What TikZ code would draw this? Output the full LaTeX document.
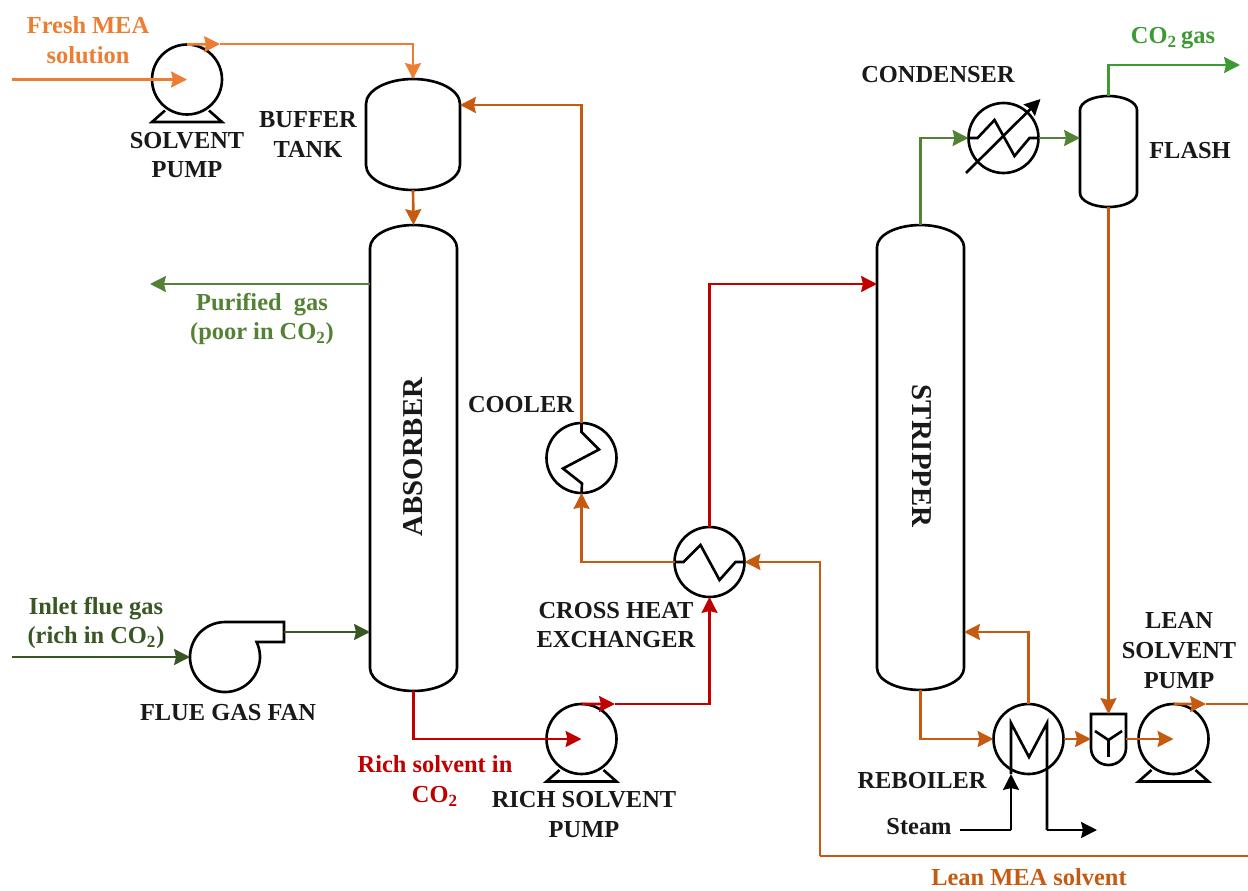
\documentclass[tikz,border=0pt]{standalone}
\usepackage{fontspec}
\setmainfont{Liberation Serif}
\definecolor{pforange}{RGB}{237,125,49}
\definecolor{pfrust}{RGB}{197,90,17}
\definecolor{pfred}{RGB}{192,0,0}
\definecolor{pfgreen}{RGB}{84,130,53}
\definecolor{pfdark}{RGB}{56,87,35}
\definecolor{pfco}{RGB}{60,155,50}
\usetikzlibrary{arrows.meta,positioning,calc}

\begin{document}
\begin{tikzpicture}[x=0.02cm,y=-0.02cm,
    lbl/.style={font=\fontsize{13.9}{17}\selectfont\bfseries, align=center, inner sep=0pt, text=black!90},
    tall/.style={font=\fontsize{16.4}{19}\selectfont\bfseries, inner sep=0pt, text=black!90},
    unit/.style={circle, draw=black, line width=1.5pt, minimum size=1.4cm, inner sep=0pt, outer sep=0pt},
    vessel/.style={rectangle, inner sep=0pt, outer sep=0pt},
    wire/.style={line width=1.5pt, black, line join=miter},
    flow/.style={line width=1.5pt, -{Stealth[length=9pt,width=9pt,inset=1pt]}},
    pipe/.style={line width=1.5pt}
  ]
    \useasboundingbox (0,0) rectangle (1248,890);

    % rotating units
    \node[unit] (solventpump) at (187,79.5) {};
    \node[unit] (richpump) at (581.5,739) {};
    \node[unit] (leanpump) at (1173.5,739) {};
    \node[unit] (cooler) at (581.5,458) {};
    \node[unit] (crosshx) at (709.5,562) {};
    \node[unit] (condenser) at (1003.5,138) {};
    \node[unit] (reboiler) at (1028.5,739) {};
    \node[circle, minimum size=1.4cm, inner sep=0pt, outer sep=0pt] (fan) at (225,657) {};

    % columns and drums
    \node[vessel, minimum width=1.88cm, minimum height=2.22cm] (tank) at (413,134.5) {};
    \node[vessel, minimum width=1.74cm, minimum height=9.32cm] (absorber) at (413.5,458) {};
    \node[vessel, minimum width=1.74cm, minimum height=9.3cm] (stripper) at (920.5,457.5) {};
    \node[vessel, minimum width=1.14cm, minimum height=2.22cm] (flash) at (1108.5,151.5) {};
    \node[vessel, minimum width=0.7cm, minimum height=1.02cm] (mixer) at (1108.5,739.5) {};

    \foreach \n/\r/\h in {tank/47/25, absorber/43.5/23, stripper/43.5/22, flash/28.5/14}
      \draw[wire] ($(\n.north west)+(0,\h)$) arc[start angle=180, end angle=360, x radius=\r, y radius=\h]
        -- ($(\n.south east)+(0,-\h)$) arc[start angle=0, end angle=180, x radius=\r, y radius=\h] -- cycle;

    % pump feet
    \foreach \n in {solventpump,richpump,leanpump}
      \draw[wire] ($(\n)+(-22,31)$) -- ++(-13,11.5) -- ++(70,0) -- ++(-13,-11.5);

    % fan casing
    \draw[wire] ($(fan)+(31.6,-15)$) arc[start angle=-25.4, end angle=270, radius=35]
      -- ++(59,0) -- ++(0,20) -- cycle;

    % mixer body
    \draw[wire] (mixer.north west) -- (mixer.north east) -- ++(0,34)
      arc[start angle=0, end angle=180, x radius=17.5, y radius=17] -- cycle;
    \draw[wire] ($(mixer)+(-13.5,-8.5)$) -- ($(mixer)+(0,0.5)$) -- ($(mixer)+(13.5,-8.5)$);
    \draw[wire] ($(mixer)+(0,0.5)$) -- ($(mixer)+(0,17.5)$);

    % coils
    \draw[wire] (cooler.north) -- ++(0,9) -- ++(17.5,17.5) -- ++(-36,19) -- ++(19,15) -- (cooler.south);
    \draw[wire] (crosshx.west) -- ++(9,0) -- ++(17,-17) -- ++(19,35) -- ++(16,-18) -- (crosshx.east);
    \draw[wire] (condenser.west) -- ++(9,0) -- ++(17,-18) -- ++(20,36) -- ++(15,-18) -- (condenser.east);
    \draw[wire, -{Stealth[length=9pt,width=9pt,inset=1pt]}] ($(condenser)+(-37.5,35)$) -- ($(condenser)+(37,-39)$);

    % solvent side
    \coordinate (freshin) at (12,79.5);
    \coordinate (freshtip) at (220,44);
    \draw[flow, pforange] (freshin) -- (solventpump.center);
    \draw[flow, pforange] (solventpump.north) -- (freshtip);
    \draw[flow, pforange] (freshtip) -| (tank.north);
    \draw[flow, pfrust] (tank.south) -- (absorber.north);
    \coordinate (tankin) at (tank.east |- 0,105);
    \draw[flow, pfrust] (cooler.north) |- (tankin);
    \draw[flow, pfrust] (crosshx.west) -| (cooler.south);

    % gas side
    \coordinate (purout) at (150,284);
    \draw[flow, pfgreen] (absorber.west |- purout) -- (purout);
    \coordinate (fluein) at (12,657);
    \coordinate (fanout) at (284,632);
    \draw[flow, pfdark] (fluein) -- (fan.west);
    \draw[flow, pfdark] (fanout) -- (absorber.west |- fanout);

    % rich solvent
    \coordinate (richtip) at (615,704);
    \coordinate (stripin) at (stripper.west |- 0,284);
    \draw[flow, pfred] (absorber.south) |- (richpump.center);
    \draw[flow, pfred] (richpump.north) -- (richtip);
    \draw[flow, pfred] (richtip) -| (crosshx.south);
    \draw[flow, pfred] (crosshx.north) |- (stripin);

    % overhead
    \coordinate (co2out) at (1240,65);
    \draw[flow, pfgreen] (stripper.north) |- (condenser.west);
    \draw[flow, pfgreen] (condenser.east) -- (flash.west |- condenser);
    \draw[flow, pfco] (flash.north) |- (co2out);

    % lean solvent
    \coordinate (refluxin) at (stripper.east |- 0,632);
    \coordinate (leantip) at (1206,704);
    \coordinate (leanend) at (1248,704);
    \coordinate (returnin) at (1248,856);
    \coordinate (returnup) at (820,856);
    \draw[flow, pfrust] (stripper.south) |- (reboiler.west);
    \draw[flow, pfrust] (reboiler.north) |- (refluxin);
    \draw[flow, pfrust] (reboiler.east) -- (mixer.west |- reboiler);
    \draw[flow, pfrust] (flash.south) -- (mixer.north);
    \draw[flow, pfrust] (mixer.east |- leanpump) -- (leanpump.center);
    \draw[flow, pfrust] (leanpump.north) -- (leantip);
    \draw[pipe, pfrust] (leantip) -- (leanend);
    \draw[pipe, pfrust] (returnin) -- (returnup);
    \draw[flow, pfrust] (returnup) |- (crosshx.east);

    % steam coil
    \coordinate (steamin) at (960,830);
    \coordinate (steamup) at (1011,830);
    \coordinate (steamtip) at (1011,774);
    \coordinate (coilleft) at (1011,723);
    \coordinate (coilmid) at (1029,757);
    \coordinate (coilright) at (1047,723);
    \coordinate (condturn) at (1047,830);
    \coordinate (condout) at (1097,830);
    \draw[wire] (steamup) -- (steamin);
    \draw[flow] (steamup) -- (steamtip);
    \draw[wire] (steamtip) -- (coilleft) -- (coilmid) -- (coilright) -- (condturn);
    \draw[flow] (condturn) -- (condout);

    % labels
    \node[lbl, text=pforange] (freshlbl) at (88,40) {Fresh MEA\\solution};
    \node[lbl] (solventlbl) at (187,155) {SOLVENT\\PUMP};
    \node[lbl] (tanklbl) at (308,134.5) {BUFFER\\TANK};
    \node[lbl, text=pfgreen] (purlbl) at (262,319) {Purified\ \ gas\\(poor in CO\textsubscript{2})};
    \node[tall, rotate=90] (absorberlbl) at (413,457) {ABSORBER};
    \node[tall, rotate=-90] (stripperlbl) at (922,456) {STRIPPER};
    \node[lbl] (coolerlbl) at (521,405) {COOLER};
    \node[lbl] (crosslbl) at (616,625) {CROSS HEAT\\EXCHANGER};
    \node[lbl, text=pfdark] (fluelbl) at (96,623) {Inlet flue gas\\(rich in CO\textsubscript{2})};
    \node[lbl] (fanlbl) at (228,713) {FLUE GAS FAN};
    \node[lbl, text=pfred] (richlbl) at (435,781) {Rich solvent in\\CO\textsubscript{2}};
    \node[lbl] (richpumplbl) at (584,814.5) {RICH SOLVENT\\PUMP};
    \node[lbl] (condlbl) at (938,75) {CONDENSER};
    \node[lbl, text=pfco] (co2lbl) at (1173,38) {CO\textsubscript{2}\,gas};
    \node[lbl] (flashlbl) at (1190,151) {FLASH};
    \node[lbl] (leanlbl) at (1179,650.5) {LEAN\\SOLVENT\\PUMP};
    \node[lbl] (reboilerlbl) at (922,781) {REBOILER};
    \node[lbl] (steamlbl) at (919,827) {Steam};
    \node[lbl, text=pfrust] (returnlbl) at (1029,877) {Lean MEA solvent};
  \end{tikzpicture}
\end{document}
